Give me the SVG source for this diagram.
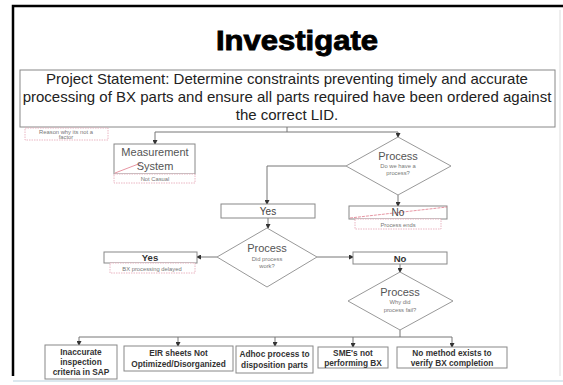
<svg xmlns="http://www.w3.org/2000/svg" width="563" height="385" viewBox="0 0 563 385">
<defs>
<marker id="arr" markerUnits="userSpaceOnUse" markerWidth="5" markerHeight="5" refX="4" refY="2.5" orient="auto">
<path d="M0,0 L5,2.5 L0,5 Z" fill="#333"/>
</marker>
<style>
.box{fill:#fff;stroke:#888;stroke-width:1}
.dia{fill:#fff;stroke:#999;stroke-width:1}
.note{fill:#fff;stroke:#e4a3b4;stroke-width:0.8;stroke-dasharray:1.5,1}
.t{font-family:"Liberation Sans",Arial,sans-serif;text-anchor:middle}
.ps{font-size:15px;fill:#222}
.lbl{font-size:11px;fill:#555}
.sm{font-size:5.8px;fill:#777}
.yn{font-size:10px;fill:#444}
.ynb{font-size:9.5px;fill:#333;font-weight:bold}
.bt{font-size:8.3px;fill:#333;font-weight:bold}
.con{fill:none;stroke:#777;stroke-width:1}
.red{stroke:#e07a8a;stroke-width:0.8;fill:none}
</style>
</defs>
<rect width="563" height="385" fill="#fff"/>
<path d="M13,376 V6 H563" fill="none" stroke="#000" stroke-width="2.5"/>
<line x1="560" y1="10" x2="560" y2="376" stroke="#ddd" stroke-width="1"/>
<line x1="13" y1="381" x2="563" y2="381" stroke="#cfe0ea" stroke-width="1.5"/>

<g id="title">
<text class="t" x="297" y="50" font-size="28" font-weight="bold" fill="#000" stroke="#000" stroke-width="0.9" textLength="162" lengthAdjust="spacingAndGlyphs">Investigate</text>
</g>

<g id="project-statement">
<rect class="box" x="20" y="70" width="535" height="57"/>
<text class="t ps" x="287" y="84">Project Statement: Determine constraints preventing timely and accurate</text>
<text class="t ps" x="287" y="102">processing of BX parts and ensure all parts required have been ordered against</text>
<text class="t ps" x="287" y="120">the correct LID.</text>
</g>

<g id="reason-note">
<rect class="note" x="25" y="128" width="83" height="12"/>
<text class="t sm" x="66" y="133.5">Reason why its not a</text>
<text class="t sm" x="66" y="139">factor</text>
</g>

<g id="connectors">
<path class="con" d="M287,127 V132"/>
<path class="con" d="M155,132 H398"/>
<path class="con" d="M155,132 V144" marker-end="url(#arr)"/>
<path class="con" d="M398,132 V137" marker-end="url(#arr)"/>
<path class="con" d="M346,166 H267 V204" marker-end="url(#arr)"/>
<path class="con" d="M398,195 V206" marker-end="url(#arr)"/>
<path class="con" d="M268,218 V228" marker-end="url(#arr)"/>
<path class="con" d="M217,257 H197" marker-end="url(#arr)"/>
<path class="con" d="M317,257 H353" marker-end="url(#arr)"/>
<path class="con" d="M400,264 V272" marker-end="url(#arr)"/>
<path class="con" d="M400,330 V337"/>
<path class="con" d="M79,337 H452"/>
<path class="con" d="M79,337 V345" marker-end="url(#arr)"/>
<path class="con" d="M178,337 V346" marker-end="url(#arr)"/>
<path class="con" d="M275,337 V346" marker-end="url(#arr)"/>
<path class="con" d="M353,337 V347" marker-end="url(#arr)"/>
<path class="con" d="M452,337 V347" marker-end="url(#arr)"/>
</g>

<g id="measurement-system">
<rect class="box" x="114" y="144" width="81" height="30"/>
<line class="red" x1="115" y1="173" x2="141" y2="163"/>
<text class="t lbl" x="155" y="156" font-size="11.5">Measurement</text>
<text class="t lbl" x="155" y="170" font-size="11.5">System</text>
<rect class="note" x="114" y="174" width="81" height="9"/>
<text class="t sm" x="155" y="181">Not Casual</text>
</g>

<g id="process-1">
<polygon class="dia" points="398,137 451,166 398,195 346,166"/>
<text class="t lbl" x="398" y="160">Process</text>
<text class="t sm" x="398" y="168">Do we have a</text>
<text class="t sm" x="398" y="175">process?</text>
</g>

<g id="yes-1">
<rect class="box" x="221" y="204" width="94" height="14"/>
<text class="t yn" x="268" y="215">Yes</text>
</g>

<g id="no-1">
<rect class="box" x="349" y="206" width="98" height="13"/>
<line class="red" x1="350" y1="218" x2="447" y2="207" stroke-dasharray="3,1"/>
<text class="t yn" x="398" y="216">No</text>
<rect class="note" x="355" y="219" width="86" height="10"/>
<text class="t sm" x="398" y="226.5">Process ends</text>
</g>

<g id="process-2">
<polygon class="dia" points="267,228 317,257 267,287 217,257"/>
<text class="t lbl" x="267" y="252">Process</text>
<text class="t sm" x="267" y="261">Did process</text>
<text class="t sm" x="267" y="267.5">work?</text>
</g>

<g id="yes-2">
<rect class="box" x="104" y="252" width="93" height="11"/>
<text class="t ynb" x="150" y="261">Yes</text>
<rect class="note" x="110" y="263" width="85" height="10"/>
<text class="t sm" x="152" y="270.5">BX processing delayed</text>
</g>

<g id="no-2">
<rect class="box" x="353" y="252" width="94" height="12"/>
<text class="t ynb" x="400" y="261.5">No</text>
</g>

<g id="process-3">
<polygon class="dia" points="400,272 453,301 400,330 348,301"/>
<text class="t lbl" x="400" y="296">Process</text>
<text class="t sm" x="400" y="304">Why did</text>
<text class="t sm" x="400" y="312">process fail?</text>
</g>

<g id="cause-1">
<rect class="box" x="45" y="345" width="72" height="34"/>
<text class="t bt" x="81" y="355">Inaccurate</text>
<text class="t bt" x="81" y="365">inspection</text>
<text class="t bt" x="81" y="375">criteria in SAP</text>
</g>

<g id="cause-2">
<rect class="box" x="124" y="346" width="109" height="25"/>
<text class="t bt" x="178.5" y="356">EIR sheets Not</text>
<text class="t bt" x="178.5" y="366.5">Optimized/Disorganized</text>
</g>

<g id="cause-3">
<rect class="box" x="236" y="346" width="77" height="27"/>
<text class="t bt" x="274.5" y="357">Adhoc process to</text>
<text class="t bt" x="274.5" y="368">disposition parts</text>
</g>

<g id="cause-4">
<rect class="box" x="318" y="347" width="70" height="21"/>
<text class="t bt" x="353" y="356">SME's not</text>
<text class="t bt" x="353" y="365.5">performing BX</text>
</g>

<g id="cause-5">
<rect class="box" x="397" y="347" width="110" height="21"/>
<text class="t bt" x="452" y="356">No method exists to</text>
<text class="t bt" x="452" y="365.5">verify BX completion</text>
</g>
</svg>
